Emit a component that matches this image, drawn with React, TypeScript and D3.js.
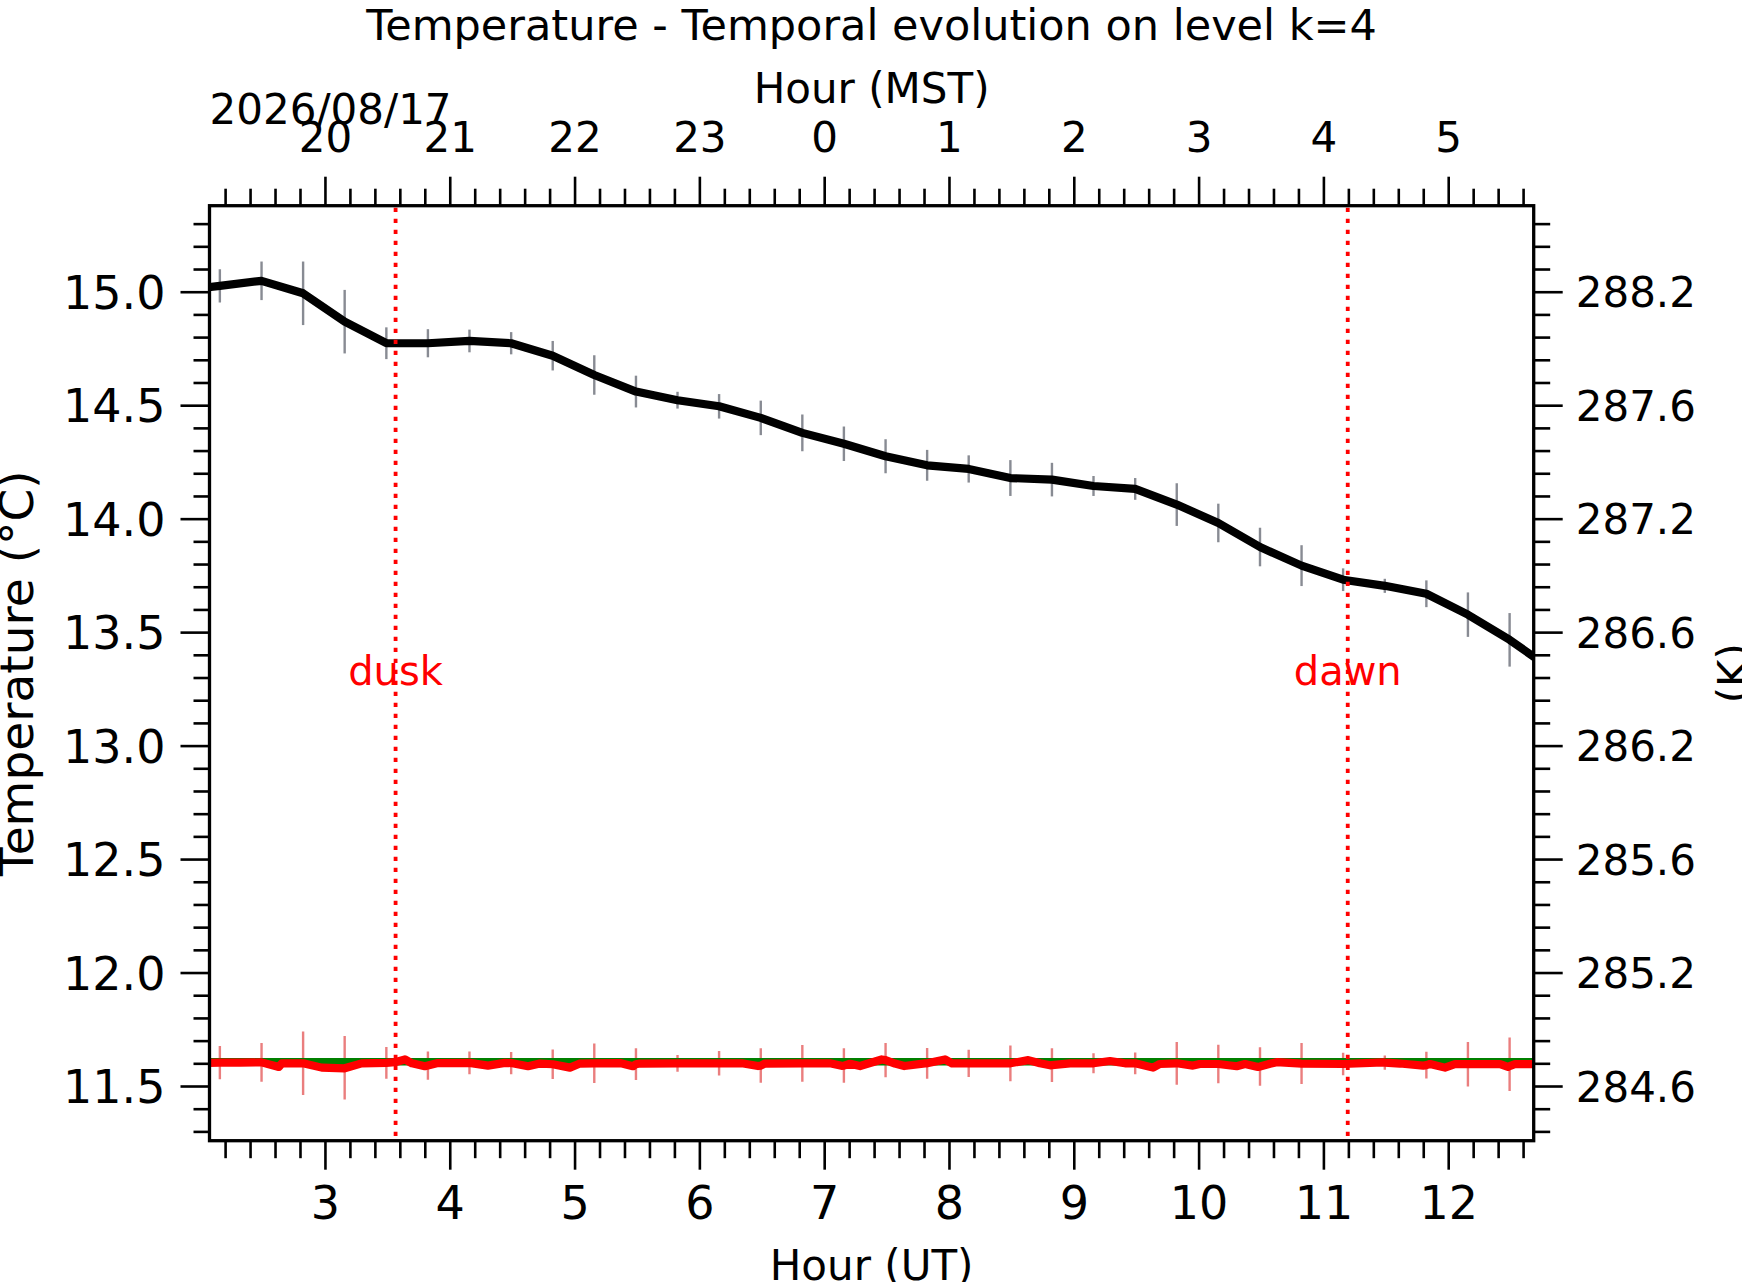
import { useEffect, useRef } from 'react';
import * as d3 from 'd3';

// one sample every 20 minutes (hours UT)
const sampleHours = [
    1.825, 2.158, 2.492, 2.825, 3.158, 3.492, 3.825, 4.158, 4.492, 4.825, 5.158, 5.492,
    5.825, 6.158, 6.492, 6.825, 7.158, 7.492, 7.825, 8.158, 8.492, 8.825, 9.158, 9.492,
    9.825, 10.158, 10.492, 10.825, 11.158, 11.492, 11.825, 12.158, 12.492, 12.825,
];
const meanTemp = [
    15.005, 15.026, 15.048, 14.993, 14.868, 14.773, 14.773, 14.783, 14.773, 14.718, 14.633, 14.56,
    14.522, 14.495, 14.444, 14.378, 14.33, 14.275, 14.235, 14.219, 14.179, 14.172, 14.144, 14.131,
    14.062, 13.981, 13.875, 13.793, 13.731, 13.704, 13.669, 13.577, 13.466, 13.338,
];
const stdTemp = [
    0.07, 0.073, 0.085, 0.14, 0.14, 0.07, 0.062, 0.05, 0.049, 0.065, 0.087, 0.07,
    0.037, 0.054, 0.076, 0.081, 0.076, 0.075, 0.068, 0.06, 0.079, 0.074, 0.044, 0.048,
    0.094, 0.085, 0.085, 0.09, 0.05, 0.031, 0.059, 0.098, 0.118, 0.1,
];
// red series, value at each sample (error bar centres)
const redAtSamples = [
    11.6, 11.603, 11.604, 11.6, 11.58, 11.602, 11.59, 11.602, 11.601, 11.596, 11.6, 11.596,
    11.6, 11.6, 11.59, 11.6, 11.59, 11.614, 11.6, 11.6, 11.6, 11.592, 11.6, 11.6,
    11.6, 11.597, 11.586, 11.599, 11.597, 11.603, 11.592, 11.596, 11.596, 11.596,
];
// red series at full resolution
const redLineHours = [
    1.825, 2.158, 2.319, 2.492, 2.631, 2.655, 2.825, 2.974, 3.158, 3.294, 3.492, 3.561,
    3.641, 3.697, 3.801, 3.825, 3.905, 4.158, 4.306, 4.442, 4.492, 4.627, 4.723, 4.825,
    4.963, 5.043, 5.158, 5.364, 5.468, 5.492, 5.524, 5.825, 6.158, 6.341, 6.47, 6.492,
    6.526, 6.825, 7.046, 7.14, 7.158, 7.207, 7.287, 7.461, 7.492, 7.567, 7.642, 7.808,
    7.825, 7.968, 8.024, 8.158, 8.409, 8.492, 8.635, 8.729, 8.81, 8.825, 8.97, 9.158,
    9.29, 9.41, 9.492, 9.635, 9.69, 9.825, 9.955, 10.01, 10.158, 10.305, 10.372, 10.476,
    10.492, 10.572, 10.626, 10.825, 11.158, 11.478, 11.492, 11.614, 11.8, 11.825, 11.854, 11.974,
    12.054, 12.158, 12.415, 12.479, 12.492, 12.535, 12.825,
];
const redLineValues = [
    11.6, 11.603, 11.603, 11.604, 11.584, 11.6, 11.6, 11.581, 11.578, 11.6, 11.602, 11.605,
    11.617, 11.6, 11.587, 11.59, 11.601, 11.602, 11.59, 11.602, 11.601, 11.587, 11.599, 11.596,
    11.581, 11.599, 11.6, 11.601, 11.587, 11.596, 11.599, 11.6, 11.6, 11.6, 11.588, 11.59,
    11.599, 11.6, 11.6, 11.589, 11.59, 11.598, 11.588, 11.617, 11.614, 11.599, 11.588, 11.6,
    11.6, 11.617, 11.6, 11.6, 11.6, 11.6, 11.614, 11.6, 11.591, 11.592, 11.6, 11.6,
    11.61, 11.6, 11.6, 11.581, 11.597, 11.6, 11.59, 11.597, 11.597, 11.587, 11.597, 11.584,
    11.586, 11.598, 11.605, 11.599, 11.597, 11.604, 11.603, 11.599, 11.59, 11.592, 11.597, 11.581,
    11.596, 11.596, 11.596, 11.584, 11.588, 11.596, 11.596,
];
const greenLevel = 11.607;

const duskHour = 3.566;
const dawnHour = 11.195;
const markerTextTemp = 13.268;

const utTicks = [3, 4, 5, 6, 7, 8, 9, 10, 11, 12];
const mstLabels = ['20', '21', '22', '23', '0', '1', '2', '3', '4', '5'];
const celsiusTicks = [11.5, 12.0, 12.5, 13.0, 13.5, 14.0, 14.5, 15.0];
const kelvinLabels = ['284.6', '285.2', '285.6', '286.2', '286.6', '287.2', '287.6', '288.2'];

const W = 1742;
const H = 1282;
const plot = { left: 209.5, right: 1533.7, top: 205.7, bottom: 1140.7 };
const font = 'DejaVu Sans';

const App = () => {
    const svgRef = useRef<SVGSVGElement>(null);

    useEffect(() => {
        const svg = d3.select(svgRef.current);
        svg.selectAll('*').remove();

        const x = d3.scaleLinear().domain([2.075, 12.685]).range([plot.left, plot.right]);
        const y = d3.scaleLinear().domain([11.259, 15.379]).range([plot.bottom, plot.top]);

        const minorX = d3.range(22, 127, 2).map(d => d / 10).filter(d => d % 1 !== 0);
        const minorY = d3.range(113, 154, 1).map(d => d / 10).filter(d => Math.round(d * 10) % 5 !== 0);

        svg.append('defs')
            .append('clipPath')
            .attr('id', 'plot-clip')
            .append('rect')
            .attr('x', plot.left)
            .attr('y', plot.top)
            .attr('width', plot.right - plot.left)
            .attr('height', plot.bottom - plot.top);

        const data = svg.append('g').attr('clip-path', 'url(#plot-clip)');

        // error bars (same spread for both series)
        data.append('g')
            .selectAll('line')
            .data(sampleHours)
            .join('line')
            .attr('x1', d => x(d))
            .attr('x2', d => x(d))
            .attr('y1', (_, i) => y(meanTemp[i] - stdTemp[i]))
            .attr('y2', (_, i) => y(meanTemp[i] + stdTemp[i]))
            .attr('stroke', '#888b93')
            .attr('stroke-width', 2.4);

        data.append('path')
            .datum(sampleHours)
            .attr('fill', 'none')
            .attr('stroke', '#000')
            .attr('stroke-width', 8.2)
            .attr('stroke-linejoin', 'round')
            .attr('d', d3.line<number>().x(d => x(d)).y((_, i) => y(meanTemp[i])));

        data.append('g')
            .selectAll('line')
            .data(sampleHours)
            .join('line')
            .attr('x1', d => x(d))
            .attr('x2', d => x(d))
            .attr('y1', (_, i) => y(redAtSamples[i] - stdTemp[i]))
            .attr('y2', (_, i) => y(redAtSamples[i] + stdTemp[i]))
            .attr('stroke', 'rgba(220,40,40,0.6)')
            .attr('stroke-width', 2.4);

        data.append('line')
            .attr('x1', x(sampleHours[0]))
            .attr('x2', x(sampleHours[sampleHours.length - 1]))
            .attr('y1', y(greenLevel))
            .attr('y2', y(greenLevel))
            .attr('stroke', 'green')
            .attr('stroke-width', 7.5);

        data.append('path')
            .datum(redLineHours)
            .attr('fill', 'none')
            .attr('stroke', 'red')
            .attr('stroke-width', 8.2)
            .attr('stroke-linejoin', 'round')
            .attr('d', d3.line<number>().x(d => x(d)).y((_, i) => y(redLineValues[i])));

        // dusk / dawn markers
        [
            { hour: duskHour, label: 'dusk' },
            { hour: dawnHour, label: 'dawn' },
        ].forEach(m => {
            svg.append('line')
                .attr('x1', x(m.hour))
                .attr('x2', x(m.hour))
                .attr('y1', plot.top + 2)
                .attr('y2', plot.bottom)
                .attr('stroke', 'red')
                .attr('stroke-width', 3.8)
                .attr('stroke-dasharray', '4.2 6.8');
            svg.append('text')
                .attr('x', x(m.hour))
                .attr('y', y(markerTextTemp))
                .attr('text-anchor', 'middle')
                .attr('font-family', font)
                .attr('font-size', 40)
                .attr('fill', 'red')
                .text(m.label);
        });

        const styleAxis = (g: d3.Selection<SVGGElement, unknown, null, undefined>, size: number) => {
            g.select('.domain').remove();
            g.selectAll('line').attr('stroke', '#000').attr('stroke-width', 2.6);
            g.selectAll('text').attr('font-family', font).attr('font-size', size).attr('fill', '#000');
            g.attr('font-family', null).attr('font-size', null);
        };

        // bottom, UT
        const bottom = svg.append('g').attr('transform', `translate(0,${plot.bottom})`);
        bottom.append('g').call(d3.axisBottom(x).tickValues(minorX).tickSize(17.5).tickFormat(() => '')).call(g => styleAxis(g, 46));
        bottom.append('g').call(d3.axisBottom(x).tickValues(utTicks).tickSize(29).tickPadding(17).tickFormat(d3.format('d'))).call(g => styleAxis(g, 46));

        // top, MST
        const top = svg.append('g').attr('transform', `translate(0,${plot.top})`);
        top.append('g').call(d3.axisTop(x).tickValues(minorX).tickSize(17).tickFormat(() => '')).call(g => styleAxis(g, 42));
        top.append('g')
            .call(d3.axisTop(x).tickValues(utTicks).tickSize(29).tickPadding(25).tickFormat((_, i) => mstLabels[i]))
            .call(g => styleAxis(g, 42));

        // left, Celsius
        const left = svg.append('g').attr('transform', `translate(${plot.left},0)`);
        left.append('g').call(d3.axisLeft(y).tickValues(minorY).tickSize(16).tickFormat(() => '')).call(g => styleAxis(g, 46));
        left.append('g')
            .call(d3.axisLeft(y).tickValues(celsiusTicks).tickSize(29).tickPadding(15).tickFormat(d3.format('.1f')))
            .call(g => styleAxis(g, 46))
            .call(g => g.selectAll('text').attr('dy', '0.36em'));

        // right, Kelvin
        const right = svg.append('g').attr('transform', `translate(${plot.right},0)`);
        right.append('g').call(d3.axisRight(y).tickValues(minorY).tickSize(16.5).tickFormat(() => '')).call(g => styleAxis(g, 42));
        right.append('g')
            .call(d3.axisRight(y).tickValues(celsiusTicks).tickSize(29).tickPadding(13).tickFormat((_, i) => kelvinLabels[i]))
            .call(g => styleAxis(g, 42))
            .call(g => g.selectAll('text').attr('dy', '0.36em'));

        // frame
        svg.append('rect')
            .attr('x', plot.left)
            .attr('y', plot.top)
            .attr('width', plot.right - plot.left)
            .attr('height', plot.bottom - plot.top)
            .attr('fill', 'none')
            .attr('stroke', '#000')
            .attr('stroke-width', 3.3);

        const cx = (plot.left + plot.right) / 2;
        const cy = (plot.top + plot.bottom) / 2;
        const addText = (txt: string, tx: number, ty: number, size: number, anchor = 'middle', rotate = 0) =>
            svg.append('text')
                .attr('transform', `translate(${tx},${ty}) rotate(${rotate})`)
                .attr('text-anchor', anchor)
                .attr('font-family', font)
                .attr('font-size', size)
                .attr('fill', '#000')
                .text(txt);

        addText('Temperature - Temporal evolution on level k=4', cx, 40, 43);
        addText('Hour (MST)', cx, 103, 42);
        addText('2026/08/17', plot.left, 124, 42, 'start');
        addText('Hour (UT)', cx, 1280, 42);
        addText('Temperature (\u00b0C)', 33, cy, 47, 'middle', -90);
        addText('(K)', 1748, cy, 42, 'middle', -90);
    }, []);

    return (
        <div style={{ position: 'absolute', left: 0, top: 0, width: W, height: H, overflow: 'hidden', background: '#fff' }}>
            <svg ref={svgRef} width={W} height={H} style={{ display: 'block' }}></svg>
        </div>
    );
};

export default App;
